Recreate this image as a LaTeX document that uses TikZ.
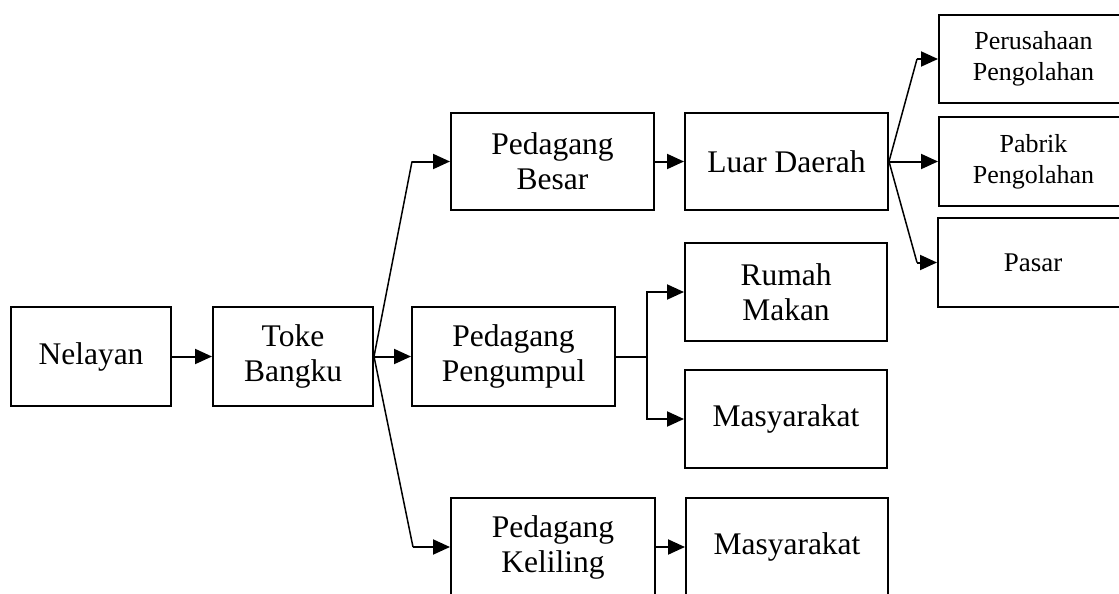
\documentclass[tikz,border=0pt]{standalone}
\usepackage{fontspec}
\setmainfont{Liberation Serif}
\usetikzlibrary{arrows.meta}
\tikzset{
  box/.style={draw=black, line width=2pt, rectangle, inner sep=0pt, align=center,
    font=\fontsize{31.5}{35}\selectfont},
  smallbox/.style={box, font=\fontsize{26}{31}\selectfont},
  midbox/.style={box, font=\fontsize{27}{31}\selectfont},
  arr/.style={line width=2pt, -{Triangle[length=17pt,width=15pt]}},
  plain/.style={line width=2pt},
  diag/.style={line width=1.5pt},
}
\begin{document}
\begin{tikzpicture}[x=1pt,y=-1pt]
\useasboundingbox (0,0) rectangle (1119,594);
\node[box, minimum width=160pt, minimum height=99pt] (nel) at (91,356.5) {Nelayan};
\node[box, minimum width=160pt, minimum height=99pt] (toke) at (293,356.5) {Toke\\Bangku};
\node[box, minimum width=203pt, minimum height=97pt] (pb) at (552.5,161.5) {Pedagang\\Besar};
\node[box, minimum width=203pt, minimum height=99pt] (pp) at (513.5,356.5) {Pedagang\\Pengumpul};
\node[box, minimum width=204pt, minimum height=99pt] (pk) at (553,547) {Pedagang\\Keliling};
\node[box, minimum width=203pt, minimum height=97pt] (ld) at (786.5,161.5) {Luar Daerah};
\node[box, minimum width=202pt, minimum height=98pt] (rm) at (786,292) {Rumah\\Makan};
\node[box, minimum width=202pt, minimum height=98pt] (m1) at (786,419) {Masyarakat};
\node[box, minimum width=202pt, minimum height=99pt] (m2) at (787,547) {Masyarakat};
\node[smallbox, minimum width=189pt, minimum height=88pt] (per) at (1033.5,59) {Perusahaan\\Pengolahan};
\node[smallbox, minimum width=189pt, minimum height=89pt] (pab) at (1033.5,161.5) {Pabrik\\Pengolahan};
\node[midbox, minimum width=190pt, minimum height=89pt] (pas) at (1033,262.5) {Pasar};

\coordinate (b1) at (412,161.5);
\coordinate (b2) at (413,547);
\coordinate (j) at (647,356.5);
\coordinate (c1) at (917,59);
\coordinate (c2) at (917,262.5);

\draw[arr] (nel.east) -- (toke.west);
\draw[diag] (toke.east) -- (b1);
\draw[arr] (b1) -- (pb.west);
\draw[arr] (toke.east) -- (pp.west);
\draw[diag] (toke.east) -- (b2);
\draw[arr] (b2) -- (pk.west);
\draw[arr] (pb.east) -- (ld.west);
\draw[plain] (pp.east) -- (j);
\draw[arr] (j) |- (rm.west);
\draw[arr] (j) |- (m1.west);
\draw[arr] (pk.east) -- (m2.west);
\draw[diag] (ld.east) -- (c1);
\draw[arr] (c1) -- (per.west);
\draw[arr] (ld.east) -- (pab.west);
\draw[diag] (ld.east) -- (c2);
\draw[arr] (c2) -- (pas.west);
\end{tikzpicture}
\end{document}
